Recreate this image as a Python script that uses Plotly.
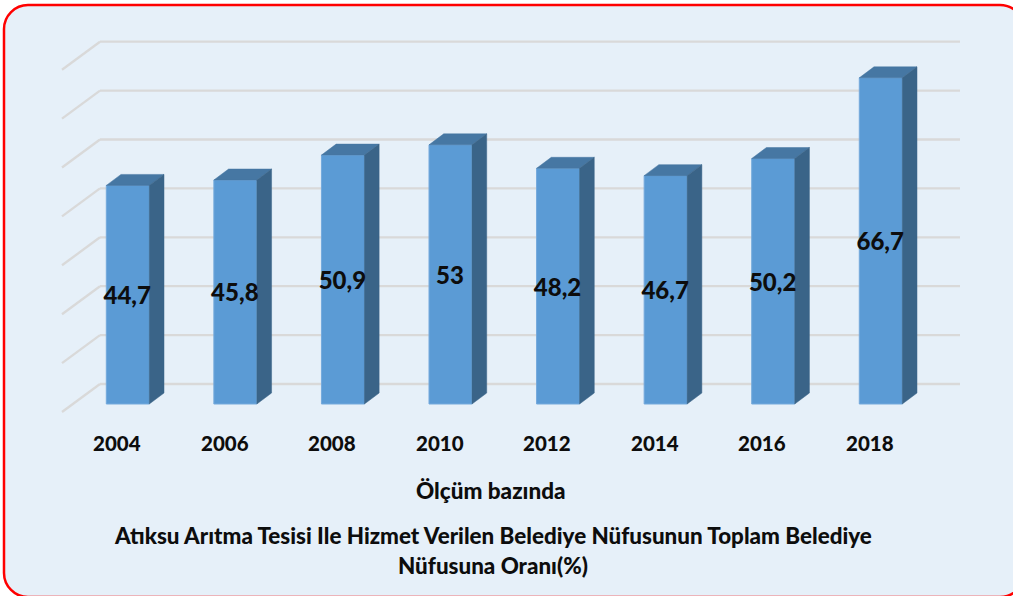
import plotly.graph_objects as go

years = ["2004", "2006", "2008", "2010", "2012", "2014", "2016", "2018"]
values = [44.7, 45.8, 50.9, 53.0, 48.2, 46.7, 50.2, 66.7]
labels = ["44,7", "45,8", "50,9", "53", "48,2", "46,7", "50,2", "66,7"]
grid_values = [0, 10, 20, 30, 40, 50, 60, 70]
x_title = "Ölçüm bazında"
title_lines = ["Atıksu Arıtma Tesisi Ile Hizmet Verilen Belediye Nüfusunun Toplam Belediye",
               "Nüfusuna Oranı(%)"]

W, H = 1013, 596
PX_CAT = 107.57     # px per category
PX_VAL = 4.89       # px per value unit
X0_PX = 127.8       # px of first category centre
Y0_PX = 404.0       # px of value 0 on the bar front

FRONT = "#5B9BD5"
TOP = "#4677A3"
SIDE = "#3A6488"
EDGE = "#74A9DC"
GRID = "#D9D9D9"
BG = "#E6F0F9"
INK = "#0D0D0D"
FONT = "Lato, Carlito, Calibri, sans-serif"


def cx(px):
    return (px - X0_PX) / PX_CAT


def cy(py):
    return (Y0_PX - py) / PX_VAL


bar_w = 43.0 / PX_CAT
dep_x = 14.7 / PX_CAT
dep_y = 11.0 / PX_VAL

fig = go.Figure()

# front faces
fig.add_trace(go.Bar(x=list(range(len(values))), y=values, width=bar_w,
                     marker=dict(color=FRONT, line=dict(color=EDGE, width=1)),
                     hoverinfo="skip", showlegend=False))

# top and side faces derived from the values
for i, v in enumerate(values):
    l, r = i - bar_w / 2, i + bar_w / 2
    fig.add_trace(go.Scatter(x=[l, r, r + dep_x, l + dep_x, l], y=[v, v, v + dep_y, v + dep_y, v],
                             mode="lines", fill="toself", fillcolor=TOP,
                             line=dict(color=TOP, width=0.5), hoverinfo="skip", showlegend=False))
    fig.add_trace(go.Scatter(x=[r, r + dep_x, r + dep_x, r, r], y=[0, dep_y, v + dep_y, v, 0],
                             mode="lines", fill="toself", fillcolor=SIDE,
                             line=dict(color=SIDE, width=0.5), hoverinfo="skip", showlegend=False))

# value labels centred in the bars
fig.add_trace(go.Scatter(x=[i - 0.005 for i in range(len(values))], y=[v / 2 - 0.7 for v in values],
                         mode="text", text=labels, textposition="middle center",
                         textfont=dict(family=FONT, size=24, color=INK, weight=900),
                         hoverinfo="skip", showlegend=False))


def rounded_path(l, t, r, b, rad):
    k = rad * 0.45
    px = lambda x: x / W
    py = lambda y: 1 - y / H
    p = lambda x, y: f"{px(x):.5f},{py(y):.5f}"
    return (f"M{p(l + rad, t)} L{p(r - rad, t)} C{p(r - k, t)} {p(r, t + k)} {p(r, t + rad)} "
            f"L{p(r, b - rad)} C{p(r, b - k)} {p(r - k, b)} {p(r - rad, b)} "
            f"L{p(l + rad, b)} C{p(l + k, b)} {p(l, b - k)} {p(l, b - rad)} "
            f"L{p(l, t + rad)} C{p(l, t + k)} {p(l + k, t)} {p(l + rad, t)} Z")


shapes = [dict(type="path", xref="paper", yref="paper", path=rounded_path(4, 5, 1024, 597, 24),
               fillcolor=BG, line=dict(color="#FF0000", width=2.5), layer="below")]

# back-wall gridlines and their side-wall diagonals
back_shift = cy(384.0)
diag_shift = cy(412.0)
for g in grid_values:
    shapes.append(dict(type="line", xref="x", yref="y", layer="below",
                       x0=cx(100), x1=cx(960), y0=g + back_shift, y1=g + back_shift,
                       line=dict(color=GRID, width=2.3)))
    shapes.append(dict(type="line", xref="x", yref="y", layer="below",
                       x0=cx(62), x1=cx(100), y0=g + diag_shift, y1=g + back_shift,
                       line=dict(color=GRID, width=2.3)))

annotations = []
for i, y in enumerate(years):
    annotations.append(dict(x=i - 0.1, y=cy(443), xref="x", yref="y", text=y, showarrow=False,
                            xanchor="center", yanchor="middle",
                            font=dict(family=FONT, size=20.5, color=INK, weight=900)))
annotations.append(dict(x=cx(491), y=cy(490), xref="x", yref="y", text=x_title, showarrow=False,
                        xanchor="center", yanchor="middle",
                        font=dict(family=FONT, size=22.5, color=INK, weight=900)))
for line, py in zip(title_lines, [535, 565]):
    annotations.append(dict(x=cx(493), y=cy(py), xref="x", yref="y", text=line, showarrow=False,
                            xanchor="center", yanchor="middle",
                            font=dict(family=FONT, size=22.4, color=INK, weight=900)))

fig.update_layout(
    width=W, height=H, margin=dict(l=0, r=0, t=0, b=0, pad=0),
    paper_bgcolor="white", plot_bgcolor="rgba(0,0,0,0)",
    showlegend=False, shapes=shapes, annotations=annotations,
    xaxis=dict(range=[cx(0), cx(W)], visible=False, fixedrange=True),
    yaxis=dict(range=[cy(H), cy(0)], visible=False, fixedrange=True),
)

fig.write_html("out.html", config={"displayModeBar": False},
               post_script="document.body.style.margin='0';document.documentElement.style.overflow='hidden';")
